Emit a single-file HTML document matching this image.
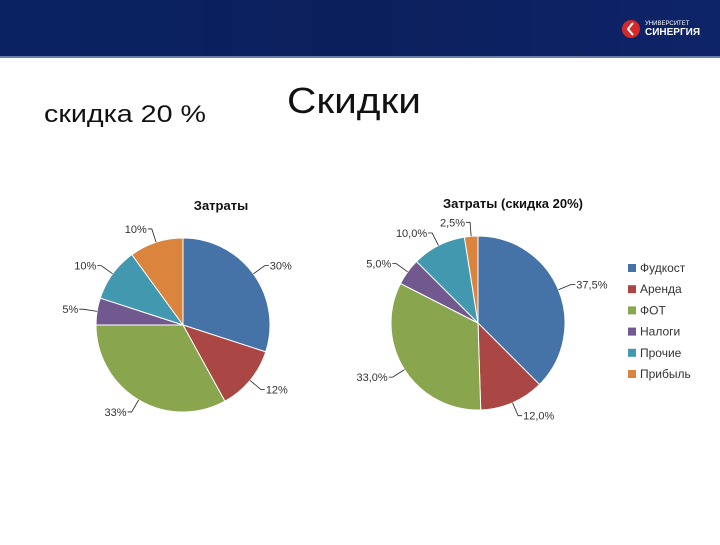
<!DOCTYPE html>
<html><head><meta charset="utf-8"><style>
body{margin:0;width:720px;height:540px;overflow:hidden;background:#fff;font-family:"Liberation Sans","DejaVu Sans",sans-serif}
</style></head><body>
<svg width="720" height="540" xmlns="http://www.w3.org/2000/svg">
<defs><linearGradient id="hg" x1="0" x2="1"><stop offset="0" stop-color="#0a2262"/><stop offset="0.5" stop-color="#0b1f5c"/><stop offset="1" stop-color="#0d2468"/></linearGradient></defs>
<rect x="0" y="0" width="720" height="57" fill="url(#hg)"/>
<rect x="0" y="56" width="720" height="2" fill="#6a7fa8"/>
<g>
<circle cx="631" cy="29" r="9" fill="#d42a2a"/>
<path d="M633 23 L628 29 L633 35" stroke="#fff" stroke-width="2" fill="none"/>
<text x="645" y="25" font-size="6" fill="#fff">УНИВЕРСИТЕТ</text>
<text x="645" y="35" font-size="10" font-weight="bold" fill="#fff">СИНЕРГИЯ</text>
</g>
<text x="44" y="122" font-size="24" fill="#111" textLength="162" lengthAdjust="spacingAndGlyphs">скидка 20 %</text>
<text x="287" y="113" font-size="36" fill="#111" textLength="134" lengthAdjust="spacingAndGlyphs">Скидки</text>
<text x="221" y="210" font-size="13" font-weight="bold" text-anchor="middle" fill="#111">Затраты</text>
<text x="513" y="208" font-size="13" font-weight="bold" text-anchor="middle" fill="#111">Затраты (скидка 20%)</text>
<g id="pie1"></g>
<g id="pie2"></g>
<g id="legend"></g>
</svg>
<script>
const categories=["Фудкост","Аренда","ФОТ","Налоги","Прочие","Прибыль"];
const values1=[30,12,33,5,10,10];
const values2=[37.5,12,33,5,10,2.5];
const labels1=["30%","12%","33%","5%","10%","10%"];
const labels2=["37,5%","12,0%","33,0%","5,0%","10,0%","2,5%"];
const colors=["#4572a7","#aa4643","#89a54e","#71588f","#4198af","#db843d"];
const NS="http://www.w3.org/2000/svg";
function mk(t,a,p){const e=document.createElementNS(NS,t);for(const k in a)e.setAttribute(k,a[k]);p.appendChild(e);return e;}
function pie(g,vals,labs,cx,cy,r,id){
  const tot=vals.reduce((a,b)=>a+b,0);let a0=0;
  vals.forEach((v,i)=>{
    const a1=a0+v/tot*2*Math.PI;
    const x0=cx+r*Math.sin(a0),y0=cy-r*Math.cos(a0),x1=cx+r*Math.sin(a1),y1=cy-r*Math.cos(a1);
    const large=(a1-a0)>Math.PI?1:0;
    const p=mk('path',{d:`M${cx},${cy} L${x0},${y0} A${r},${r} 0 ${large} 1 ${x1},${y1} Z`,fill:colors[i],stroke:'#fff','stroke-width':1},g);
    
    
    const am=(a0+a1)/2,sx=Math.sin(am),sy=-Math.cos(am);
    const lx=cx+(r+14)*sx,ly=cy+(r+14)*sy;
    const ln=mk('polyline',{points:`${cx+r*sx},${cy+r*sy} ${lx},${ly} ${lx+(sx>0?4:-4)},${ly}`,fill:'none',stroke:'#222','stroke-width':0.8},g);
    
    
    const t=mk('text',{x:lx+(sx>0?5:-5),y:ly+4,'font-size':11,fill:'#333','text-anchor':sx>0?'start':'end'},g);
    t.textContent=labs[i];
    
    
    a0=a1;
  });
}
pie(document.getElementById('pie1'),values1,labels1,183,325,87,'pie1');
pie(document.getElementById('pie2'),values2,labels2,478,323,87,'pie2');
const lg=document.getElementById('legend');
categories.forEach((c,i)=>{
  const y=269+i*21.2;
  const r=mk('rect',{x:628,y:y-5,width:8,height:8,fill:colors[i]},lg);
  
  
  const t=mk('text',{x:640,y:y+3,'font-size':12,fill:'#333'},lg);
  t.textContent=c;
  
  
});
</script>
</body></html>
